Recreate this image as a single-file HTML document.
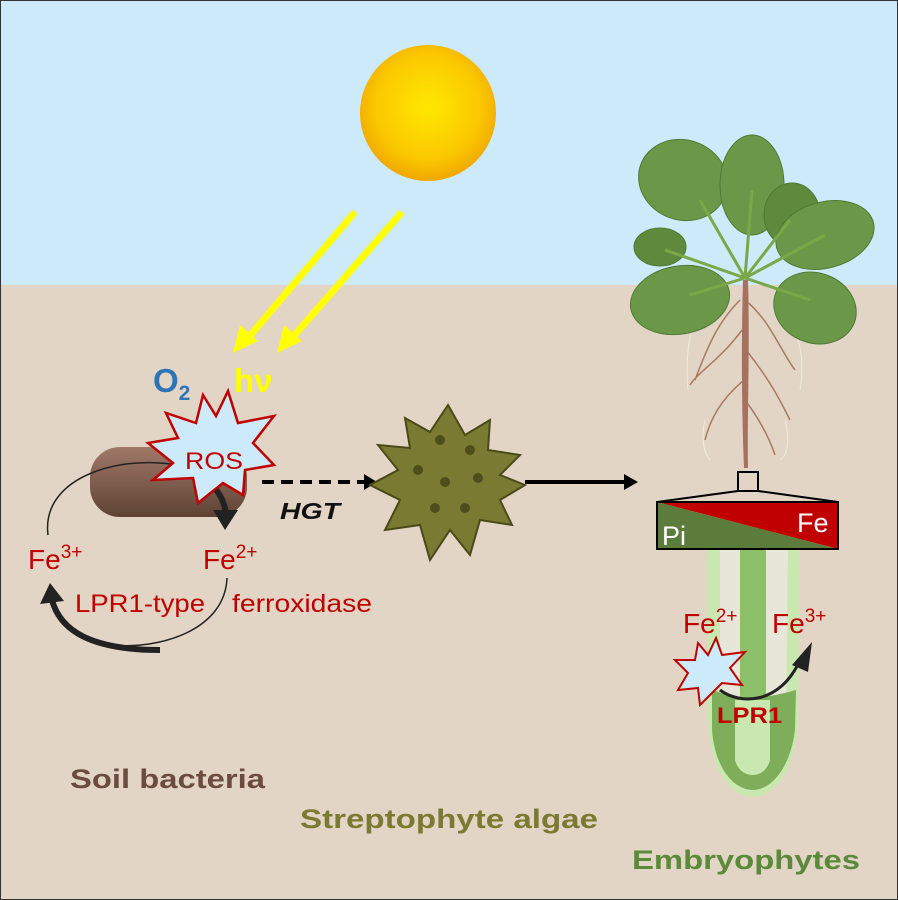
<!DOCTYPE html>
<html><head><style>body{margin:0}svg{display:block}</style></head><body>
<svg width="898" height="900" viewBox="0 0 898 900" xmlns="http://www.w3.org/2000/svg" font-family="Liberation Sans, Arial, sans-serif">
<defs>
<radialGradient id="sun" cx="0.5" cy="0.45" r="0.55"><stop offset="0" stop-color="#ffe800"/><stop offset="0.7" stop-color="#fbc800"/><stop offset="1" stop-color="#f0a800"/></radialGradient>
<linearGradient id="bac" x1="0" y1="0" x2="0" y2="1"><stop offset="0" stop-color="#a07868"/><stop offset="1" stop-color="#5e4335"/></linearGradient>
</defs>
<rect width="898" height="900" fill="#e2d5c5"/>
<rect width="898" height="285" fill="#cdeafb"/>
<rect x="0.5" y="0.5" width="897" height="899" fill="none" stroke="#333" stroke-width="1"/>
<circle cx="428" cy="113" r="68" fill="url(#sun)"/>
<g stroke="#ffff00" stroke-width="7" fill="#ffff00">
<line x1="355" y1="212" x2="248" y2="338"/><line x1="402" y1="212" x2="292" y2="338"/>
</g>
<path d="M233,353 L240,325 L258,341 z" fill="#ffff00"/>
<path d="M277,353 L284,325 L302,341 z" fill="#ffff00"/>
<text x="153" y="392" font-size="33" font-weight="bold" fill="#2e75b6">O<tspan font-size="21" dy="8">2</tspan></text>
<text x="234" y="392" font-size="33" font-weight="bold" fill="#ffff00">hν</text>
<rect x="90" y="447" width="157" height="70" rx="30" fill="url(#bac)"/>
<path d="M48,535 C40,470 140,450 195,470" fill="none" stroke="#222" stroke-width="1.5"/>
<path d="M170,470 C205,470 222,490 226,513" fill="none" stroke="#222" stroke-width="6"/>
<path d="M213,510 L238,510 L225,530 z" fill="#222"/>
<path d="M227,578 C225,630 160,650 110,645" fill="none" stroke="#222" stroke-width="1.5"/>
<path d="M160,650 C90,650 60,630 52,600" fill="none" stroke="#222" stroke-width="6"/>
<path d="M40,604 L50,583 L64,601 z" fill="#222"/>
<polygon fill="#cdeafb" stroke="#c00000" stroke-width="2.5" points="230,393 240,425 276,418 255,445 276,467 247,472 245,497 225,485 200,505 195,480 155,482 175,465 150,445 180,440 168,415 198,425 205,397 218,418" transform="translate(-2,-2)"/>
<text x="185" y="469" font-size="24" fill="#c00000" textLength="58" lengthAdjust="spacingAndGlyphs">ROS</text>
<text x="28" y="569" font-size="28" fill="#c00000">Fe<tspan font-size="19" dy="-11">3+</tspan></text>
<text x="203" y="569" font-size="28" fill="#c00000">Fe<tspan font-size="19" dy="-11">2+</tspan></text>
<text x="75" y="612" font-size="25" fill="#c00000" textLength="130" lengthAdjust="spacingAndGlyphs">LPR1-type</text>
<text x="232" y="612" font-size="25" fill="#c00000" textLength="140" lengthAdjust="spacingAndGlyphs">ferroxidase</text>
<line x1="262" y1="482" x2="368" y2="482" stroke="#000" stroke-width="4" stroke-dasharray="12,7"/>
<path d="M364,474 L377,482 L364,490 z" fill="#000"/>
<text x="280" y="519" font-size="23" font-weight="bold" font-style="italic" fill="#111" textLength="60" lengthAdjust="spacingAndGlyphs">HGT</text>
<polygon fill="#7b7a32" stroke="#4a4a18" stroke-width="2" points="448,405 465,435 490,420 488,450 520,455 500,475 525,485 500,500 512,525 480,520 470,555 450,530 430,560 420,525 385,530 400,500 370,485 398,470 378,445 410,448 405,418 430,432"/>
<g fill="#4e4d1c"><circle cx="440" cy="440" r="5"/><circle cx="470" cy="450" r="5"/><circle cx="418" cy="470" r="5"/><circle cx="478" cy="478" r="5"/><circle cx="445" cy="482" r="5"/><circle cx="435" cy="508" r="5"/><circle cx="465" cy="508" r="5"/></g>
<line x1="525" y1="482" x2="628" y2="482" stroke="#000" stroke-width="4"/>
<path d="M624,474 L638,482 L624,490 z" fill="#000"/>
<g stroke="#a87a60" stroke-width="1.5" fill="none">
<path d="M740,300 C720,320 710,340 695,380"/><path d="M742,330 C720,360 700,370 690,385"/><path d="M745,300 C770,320 780,350 795,370"/><path d="M746,350 C770,380 780,400 790,420"/><path d="M744,380 C720,400 710,420 705,440"/><path d="M745,400 C760,420 770,440 775,455"/>
</g>
<g stroke="#f4efe6" stroke-width="1" fill="none" opacity="0.8">
<path d="M700,310 C690,330 685,350 688,390"/><path d="M790,320 C800,340 805,360 800,390"/><path d="M705,420 C700,440 705,455 710,460"/><path d="M785,420 C790,440 788,455 780,460"/>
</g>
<path d="M743,280 L748,280 C750,350 747,420 748,468 L744,468 C742,420 741,350 743,280z" fill="#a87060"/>
<g fill="#6b9848" stroke="#4e7a33" stroke-width="1">
<ellipse cx="683" cy="180" rx="45" ry="40" transform="rotate(20 683 180)"/>
<ellipse cx="752" cy="185" rx="32" ry="50"/>
<ellipse cx="792" cy="215" rx="28" ry="32" fill="#5f8a3e"/>
<ellipse cx="825" cy="235" rx="50" ry="33" transform="rotate(-15 825 235)"/>
<ellipse cx="660" cy="247" rx="26" ry="19" fill="#5f8a3e"/>
<ellipse cx="680" cy="300" rx="50" ry="34" transform="rotate(-10 680 300)"/>
<ellipse cx="815" cy="308" rx="42" ry="35" transform="rotate(20 815 308)"/>
</g>
<g stroke="#7aa848" stroke-width="3" fill="none"><path d="M745,278 L700,200"/><path d="M745,278 L752,190"/><path d="M745,278 L790,220"/><path d="M745,278 L825,235"/><path d="M745,278 L665,250"/><path d="M745,278 L690,295"/><path d="M745,278 L810,300"/></g>
<rect x="738" y="472" width="20" height="19" fill="none" stroke="#000" stroke-width="2"/>
<path d="M738,491 L657,502 M758,491 L838,502" stroke="#000" stroke-width="2"/>
<polygon points="657,502 838,502 838,549" fill="#c00000"/>
<polygon points="657,502 838,549 657,549" fill="#5b7c3a"/>
<rect x="657" y="502" width="181" height="47" fill="none" stroke="#000" stroke-width="2"/>
<text x="662" y="545" font-size="27" fill="#fff">Pi</text>
<text x="797" y="532" font-size="27" fill="#fff">Fe</text>
<path d="M707,550 L800,550 L798,720 C796,770 775,797 753,797 C730,797 710,770 708,720 z" fill="#c9e8b0"/>
<path d="M720,550 L788,550 L786,720 C784,760 768,785 753,785 C737,785 722,760 720,720 z" fill="#e8e6d8"/>
<path d="M740,550 L766,550 L766,740 L740,740 z" fill="#8cbf6a"/>
<path d="M712,690 C740,700 760,700 796,690 L795,730 C790,770 770,790 753,790 C735,790 715,770 712,730z" fill="#7fae5a"/>
<path d="M735,700 L770,700 L770,760 C765,780 740,780 735,760z" fill="#c9e8b0"/>
<polygon fill="#cdeafb" stroke="#c00000" stroke-width="2" points="716,638 722,655 745,652 730,668 742,685 722,683 700,705 698,688 678,690 688,673 675,660 695,660 698,643 708,655"/>
<path d="M720,690 C740,705 780,705 800,660" fill="none" stroke="#222" stroke-width="3"/>
<path d="M792,665 L812,642 L808,672 z" fill="#222"/>
<text x="683" y="633" font-size="28" fill="#c00000">Fe<tspan font-size="19" dy="-11">2+</tspan></text>
<text x="772" y="633" font-size="28" fill="#c00000">Fe<tspan font-size="19" dy="-11">3+</tspan></text>
<text x="717" y="723" font-size="22" font-weight="bold" fill="#c00000" textLength="65" lengthAdjust="spacingAndGlyphs">LPR1</text>
<text x="70" y="788" font-size="27" font-weight="bold" fill="#6b4c3e" textLength="195" lengthAdjust="spacingAndGlyphs">Soil bacteria</text>
<text x="300" y="828" font-size="27" font-weight="bold" fill="#7b7a32" textLength="298" lengthAdjust="spacingAndGlyphs">Streptophyte algae</text>
<text x="632" y="869" font-size="27" font-weight="bold" fill="#5b8a3a" textLength="228" lengthAdjust="spacingAndGlyphs">Embryophytes</text>
</svg>
</body></html>
